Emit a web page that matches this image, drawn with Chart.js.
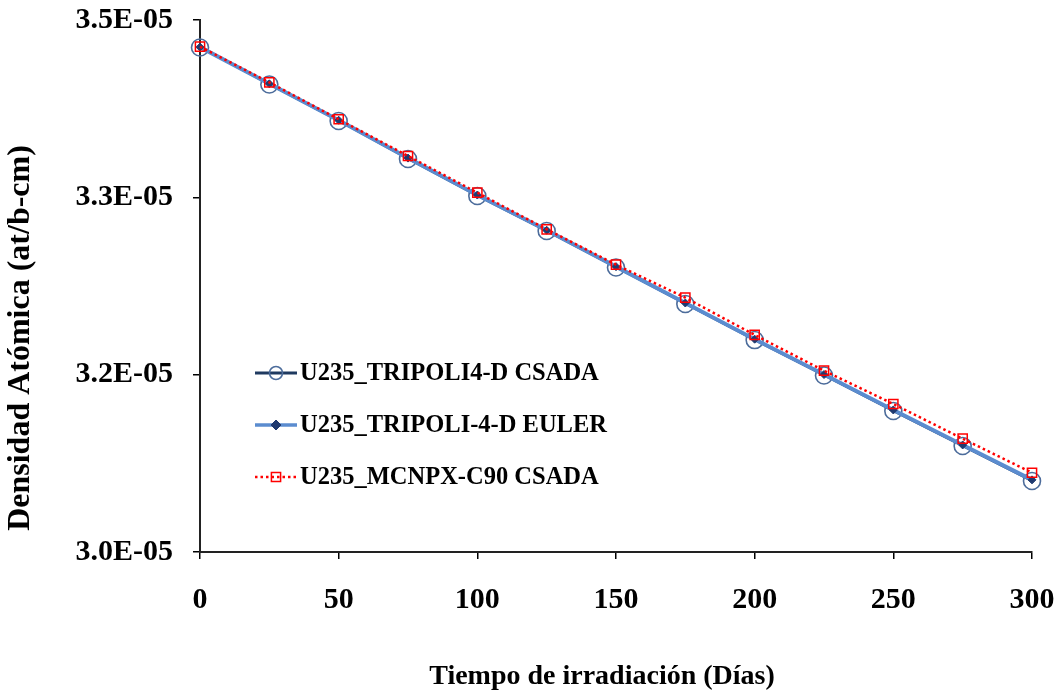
<!DOCTYPE html>
<html>
<head>
<meta charset="utf-8">
<script src="https://cdn.jsdelivr.net/npm/chart.js@4.4.1/dist/chart.umd.min.js"></script>
<style>
  body { margin: 0; background: #fff; }
</style>
</head>
<body>
<canvas id="myChart" width="1062" height="696"></canvas>
<script>
// Datos del gráfico
const dias = [0, 25, 50, 75, 100, 125, 150, 175, 200, 225, 250, 275, 300];
const tripoliCsada = [3.4742e-5, 3.4394e-5, 3.4051e-5, 3.3694e-5, 3.3346e-5, 3.3017e-5, 3.2674e-5,
                      3.2331e-5, 3.1992e-5, 3.1659e-5, 3.1325e-5, 3.0996e-5, 3.0667e-5];
const tripoliEuler = [3.4745e-5, 3.4400e-5, 3.4058e-5, 3.3702e-5, 3.3355e-5, 3.3024e-5, 3.2682e-5,
                      3.2340e-5, 3.2000e-5, 3.1668e-5, 3.1335e-5, 3.1006e-5, 3.0678e-5];
const mcnpxCsada = [3.4749e-5, 3.4414e-5, 3.4067e-5, 3.3722e-5, 3.3377e-5, 3.3033e-5, 3.2700e-5,
                    3.2390e-5, 3.2040e-5, 3.1704e-5, 3.1391e-5, 3.1065e-5, 3.0745e-5];
const nombresSeries = ['U235_TRIPOLI4-D CSADA', 'U235_TRIPOLI-4-D EULER', 'U235_MCNPX-C90 CSADA'];
const yTickValores = [3.0e-5, 3.16667e-5, 3.33333e-5, 3.5e-5];
const yTickEtiquetas = ['3.0E-05', '3.2E-05', '3.3E-05', '3.5E-05'];
const xTickValores = [0, 50, 100, 150, 200, 250, 300];
const tituloY = 'Densidad Atómica (at/b-cm)';
const tituloX = 'Tiempo de irradiación (Días)';

function puntos(serie) {
    return dias.map((d, i) => ({ x: d, y: serie[i] }));
}

const fuente = '"Liberation Serif", "Times New Roman", serif';

// Leyenda y títulos de ejes dibujados a mano
const leyenda = {
    id: 'leyenda',
    afterDraw(chart) {
        const ctx = chart.ctx;
        const x0 = chart.chartArea.left + 55;
        chart.data.datasets.forEach((ds, i) => {
            const y = 373 + i * 52;
            ctx.save();
            ctx.strokeStyle = ds.borderColor;
            ctx.lineWidth = ds.legendLineWidth;
            ctx.setLineDash(ds.borderDash || []);
            ctx.lineCap = ds.borderCapStyle || 'butt';
            ctx.beginPath();
            ctx.moveTo(x0, y);
            ctx.lineTo(x0 + 42, y);
            ctx.stroke();
            ctx.setLineDash([]);
            ctx.strokeStyle = ds.pointBorderColor;
            ctx.fillStyle = ds.pointBackgroundColor;
            ctx.lineWidth = ds.pointBorderWidth;
            Chart.helpers.drawPoint(ctx, {
                pointStyle: ds.pointStyle,
                radius: ds.legendRadius,
                borderWidth: ds.pointBorderWidth,
                rotation: 0
            }, x0 + 21, y);
            ctx.fillStyle = '#000';
            ctx.font = 'bold 24.5px ' + fuente;
            ctx.textBaseline = 'middle';
            ctx.fillText(ds.label, x0 + 45, y + 1);
            ctx.restore();
        });

        ctx.save();
        ctx.fillStyle = '#000';
        ctx.textAlign = 'center';
        ctx.textBaseline = 'middle';
        ctx.font = 'bold 28px ' + fuente;
        ctx.fillText(tituloX, 602, 677);
        ctx.translate(21, 338);
        ctx.rotate(-Math.PI / 2);
        ctx.font = 'bold 32px ' + fuente;
        ctx.fillText(tituloY, 0, 0);
        ctx.restore();
    }
};

const data = {
    datasets: [{
        label: nombresSeries[0],
        data: puntos(tripoliCsada),
        borderColor: '#1F3A60',
        borderWidth: 2,
        legendLineWidth: 3,
        pointStyle: 'circle',
        pointRadius: 8.5,
        legendRadius: 6.5,
        pointBorderWidth: 1.6,
        pointBorderColor: '#4C6C9B',
        pointBackgroundColor: 'rgba(0,0,0,0)',
        order: 3,
        clip: false
    }, {
        label: nombresSeries[1],
        data: puntos(tripoliEuler),
        borderColor: '#5B8CCF',
        borderWidth: 4,
        legendLineWidth: 3.5,
        pointStyle: 'rectRot',
        pointRadius: 4,
        legendRadius: 5,
        pointBorderWidth: 1,
        pointBorderColor: '#1F3A70',
        pointBackgroundColor: '#1F3A70',
        order: 2,
        clip: false
    }, {
        label: nombresSeries[2],
        data: puntos(mcnpxCsada),
        borderColor: '#FF0000',
        borderWidth: 2.5,
        legendLineWidth: 2.5,
        borderDash: [2.5, 3],
        pointStyle: 'rect',
        pointRadius: 6.5,
        legendRadius: 6.5,
        pointBorderWidth: 1.5,
        pointBorderColor: '#FF0000',
        pointBackgroundColor: 'rgba(0,0,0,0)',
        order: 1,
        clip: false
    }]
};

const options = {
    responsive: false,
    animation: false,
    layout: { padding: { top: 20, right: 30, bottom: 0, left: 0 } },
    plugins: {
        legend: { display: false },
        tooltip: { enabled: false }
    },
    elements: { line: { tension: 0 } },
    scales: {
        x: {
            type: 'linear',
            min: 0,
            max: 300,
            afterFit(scale) {
                scale.height = 144;
                scale.paddingLeft = 0;
                scale.paddingRight = 0;
            },
            afterBuildTicks(scale) { scale.ticks = xTickValores.map(v => ({ value: v })); },
            grid: { drawOnChartArea: false, drawTicks: true, tickLength: 7, color: '#000', lineWidth: 1.5 },
            border: { color: '#222', width: 2 },
            ticks: {
                color: '#000',
                padding: 23,
                maxRotation: 0,
                font: { family: fuente, size: 30, weight: 'bold' }
            },
            title: { display: false }
        },
        y: {
            type: 'linear',
            min: 3.0e-5,
            max: 3.5e-5,
            afterFit(scale) {
                scale.width = 200;
                scale.paddingTop = 0;
                scale.paddingBottom = 0;
            },
            afterBuildTicks(scale) { scale.ticks = yTickValores.map(v => ({ value: v })); },
            grid: { drawOnChartArea: false, drawTicks: true, tickLength: 7, color: '#000', lineWidth: 1.5 },
            border: { color: '#222', width: 2 },
            ticks: {
                color: '#000',
                padding: 20,
                font: { family: fuente, size: 30, weight: 'bold' },
                callback: (v, i) => yTickEtiquetas[i]
            },
            title: { display: false }
        }
    }
};

const ctx = document.getElementById('myChart').getContext('2d');
const myChart = new Chart(ctx, {
    type: 'line',
    data: data,
    options: options,
    plugins: [leyenda]
});
</script>
</body>
</html>
